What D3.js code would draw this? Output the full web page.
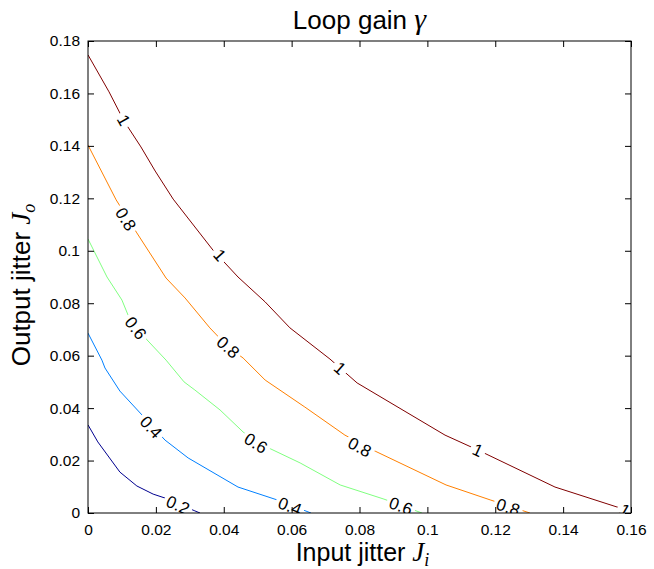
<!DOCTYPE html>
<html>
<head>
<meta charset="utf-8">
<script src="https://cdn.jsdelivr.net/npm/d3@7"></script>
<style>
body { margin: 0; background: #fff; }
text { font-family: "Liberation Sans", Arial, sans-serif; }
</style>
</head>
<body>
<div id="chart"></div>
<script>
// contour levels of the loop gain and their colours (jet)
var levels = [0.2, 0.4, 0.6, 0.8, 1];
var levelColors = ["#00008f", "#0080ff", "#80ff80", "#ff8000", "#800000"];

// contour lines, points are [input jitter, output jitter]
var contour02 = [[0,0.0336],[0.0029,0.0271],[0.0094,0.0156],[0.0144,0.0103],[0.0192,0.0072],
    [0.0227,0.0057],[0.0315,0.0008],[0.0330,0]];
var contour04 = [[0,0.0686],[0.0041,0.0583],[0.0050,0.0553],[0.0094,0.0465],[0.0159,0.0374],
    [0.0227,0.0278],[0.0295,0.0210],[0.0442,0.0099],[0.0557,0.0050],[0.0595,0.0031],[0.0657,0]];
var contour06 = [[0,0.1045],[0.0056,0.0900],[0.0100,0.0812],[0.0118,0.0755],[0.0174,0.0660],
    [0.0230,0.0583],[0.0283,0.0500],[0.0315,0.0469],[0.0389,0.0393],[0.0457,0.0309],
    [0.0498,0.0267],[0.0539,0.0244],[0.0625,0.0191],[0.0743,0.0107],[0.0872,0.0053],
    [0.0919,0.0031],[0.0984,0]];
var contour08 = [[0,0.1403],[0.0083,0.1194],[0.0144,0.1068],[0.0230,0.0896],[0.0286,0.0820],
    [0.0359,0.0706],[0.0413,0.0633],[0.0457,0.0591],[0.0522,0.0507],[0.0639,0.0404],
    [0.0757,0.0297],[0.0846,0.0236],[0.1055,0.0107],[0.1185,0.0050],[0.1302,0]];
var contour10 = [[0,0.1747],[0.0062,0.1606],[0.0106,0.1495],[0.0156,0.1396],[0.0198,0.1304],
    [0.0251,0.1197],[0.0368,0.1003],[0.0442,0.0900],[0.0522,0.0805],[0.0595,0.0706],
    [0.0713,0.0587],[0.0793,0.0496],[0.1052,0.0297],[0.1149,0.0240],[0.1376,0.0099],
    [0.1568,0.0019],[0.1585,0]];
var contours = [contour02, contour04, contour06, contour08, contour10];

// inline contour labels: [level, input jitter, output jitter]
var labelSpots = [
    [1, 0.0106, 0.1499], [1, 0.0389, 0.0984], [1, 0.0743, 0.0553], [1, 0.1149, 0.0240], [1, 0.1582, 0.0011],
    [0.8, 0.0112, 0.1121], [0.8, 0.0413, 0.0633], [0.8, 0.0801, 0.0252], [0.8, 0.1238, 0.0023],
    [0.6, 0.0141, 0.0706], [0.6, 0.0495, 0.0267], [0.6, 0.0922, 0.0027],
    [0.4, 0.0186, 0.0328], [0.4, 0.0595, 0.0027],
    [0.2, 0.0265, 0.0031]
];

var xTicks = [0, 0.02, 0.04, 0.06, 0.08, 0.1, 0.12, 0.14, 0.16];
var xTickLabels = ["0", "0.02", "0.04", "0.06", "0.08", "0.1", "0.12", "0.14", "0.16"];
var yTicks = [0, 0.02, 0.04, 0.06, 0.08, 0.1, 0.12, 0.14, 0.16, 0.18];
var yTickLabels = ["0", "0.02", "0.04", "0.06", "0.08", "0.1", "0.12", "0.14", "0.16", "0.18"];

// chart dimensions
var svg_width = 654;
var svg_height = 569;
var margin = {top: 41, right: 23, bottom: 56, left: 88};
var width = svg_width - margin.left - margin.right;
var height = svg_height - margin.top - margin.bottom;

var svg = d3.select('#chart')
    .append('svg')
    .attr('width', svg_width)
    .attr('height', svg_height);

var chartGroup = svg.append('g')
    .attr('transform', 'translate(' + margin.left + ',' + margin.top + ')');

var x_scale = d3.scaleLinear().domain([0, 0.16]).range([0, width]);
var y_scale = d3.scaleLinear().domain([0, 0.18]).range([height, 0]);

svg.append('defs').append('clipPath')
    .attr('id', 'plotClip')
    .append('rect')
    .attr('width', width)
    .attr('height', height);

var plot = chartGroup.append('g').attr('clip-path', 'url(#plotClip)');

var line = d3.line()
    .x(function(d){ return x_scale(d[0]); })
    .y(function(d){ return y_scale(d[1]); });

var paths = plot.selectAll('.contour')
    .data(contours)
    .enter()
    .append('path')
    .attr('class', 'contour')
    .attr('d', line)
    .attr('fill', 'none')
    .attr('stroke', function(d, i){ return levelColors[i]; })
    .attr('stroke-width', 1);

var pathNodes = paths.nodes();

// labels: find the spot on the line, rotate along it, blank the line behind
labelSpots.forEach(function(s){
    var node = pathNodes[levels.indexOf(s[0])];
    var px = x_scale(s[1]), py = y_scale(s[2]);
    var total = node.getTotalLength();
    var best = 0, bestD = Infinity;
    for (var L = 0; L <= total; L += 0.5) {
        var p = node.getPointAtLength(L);
        var dd = (p.x - px) * (p.x - px) + (p.y - py) * (p.y - py);
        if (dd < bestD) { bestD = dd; best = L; }
    }
    var a = node.getPointAtLength(Math.max(0, best - 12));
    var b = node.getPointAtLength(Math.min(total, best + 12));
    var angle = Math.atan2(b.y - a.y, b.x - a.x) * 180 / Math.PI;
    if (angle > 90) angle -= 180;
    if (angle < -90) angle += 180;

    var g = plot.append('g')
        .attr('transform', 'translate(' + px + ',' + py + ') rotate(' + angle + ')');
    var bg = g.append('rect').attr('fill', '#fff');
    var t = g.append('text')
        .attr('text-anchor', 'middle')
        .attr('dy', '0.36em')
        .attr('font-size', 17)
        .attr('fill', '#000')
        .text(String(s[0]));
    var w = t.node().getBBox().width;
    bg.attr('x', -w / 2 - 3).attr('y', -7).attr('width', w + 6).attr('height', 14);
});

// axes with inward ticks on all four sides
var x_axis = d3.axisBottom(x_scale).tickValues(xTicks)
    .tickFormat(function(d, i){ return xTickLabels[i]; })
    .tickSizeInner(-6).tickSizeOuter(0).tickPadding(11);
var y_axis = d3.axisLeft(y_scale).tickValues(yTicks)
    .tickFormat(function(d, i){ return yTickLabels[i]; })
    .tickSizeInner(-6).tickSizeOuter(0).tickPadding(8);
var x_top = d3.axisTop(x_scale).tickValues(xTicks).tickFormat('')
    .tickSizeInner(-6).tickSizeOuter(0);
var y_right = d3.axisRight(y_scale).tickValues(yTicks).tickFormat('')
    .tickSizeInner(-6).tickSizeOuter(0);

chartGroup.append('g').attr('class', 'x-axis')
    .attr('transform', 'translate(0,' + height + ')')
    .call(x_axis);
chartGroup.append('g').attr('class', 'y-axis').call(y_axis);
chartGroup.append('g').attr('class', 'x-top').call(x_top);
chartGroup.append('g').attr('class', 'y-right')
    .attr('transform', 'translate(' + width + ',0)')
    .call(y_right);

chartGroup.selectAll('.domain').remove();
chartGroup.selectAll('.tick line').attr('stroke', '#000');
chartGroup.selectAll('.tick text')
    .attr('font-family', '"Liberation Sans", Arial, sans-serif')
    .attr('font-size', 15.5)
    .attr('fill', '#000');

chartGroup.append('rect')
    .attr('width', width)
    .attr('height', height)
    .attr('fill', 'none')
    .attr('stroke', '#000')
    .attr('stroke-width', 1);

// title and axis labels
var title = svg.append('text')
    .attr('x', margin.left + width / 2)
    .attr('y', 29)
    .attr('text-anchor', 'middle')
    .attr('font-size', 26);
title.append('tspan').text('Loop gain ');
title.append('tspan')
    .attr('font-family', '"Liberation Serif", serif')
    .attr('font-style', 'italic')
    .attr('font-size', 30)
    .text('γ');

var xLabel = svg.append('text')
    .attr('x', margin.left + width / 2 + 3)
    .attr('y', 561)
    .attr('text-anchor', 'middle')
    .attr('font-size', 25);
xLabel.append('tspan').text('Input jitter ');
xLabel.append('tspan')
    .attr('font-family', '"Liberation Serif", serif')
    .attr('font-style', 'italic')
    .attr('font-size', 27)
    .text('J');
xLabel.append('tspan')
    .attr('font-family', '"Liberation Serif", serif')
    .attr('font-style', 'italic')
    .attr('font-size', 18)
    .attr('dy', 5)
    .text('i');

var yLabel = svg.append('text')
    .attr('transform', 'translate(30,' + (margin.top + height / 2 + 8) + ') rotate(-90)')
    .attr('text-anchor', 'middle')
    .attr('font-size', 26);
yLabel.append('tspan').text('Output jitter ');
yLabel.append('tspan')
    .attr('font-family', '"Liberation Serif", serif')
    .attr('font-style', 'italic')
    .attr('font-size', 27)
    .text('J');
yLabel.append('tspan')
    .attr('font-family', '"Liberation Serif", serif')
    .attr('font-style', 'italic')
    .attr('font-size', 18)
    .attr('dy', 5)
    .text('o');
</script>
</body>
</html>
